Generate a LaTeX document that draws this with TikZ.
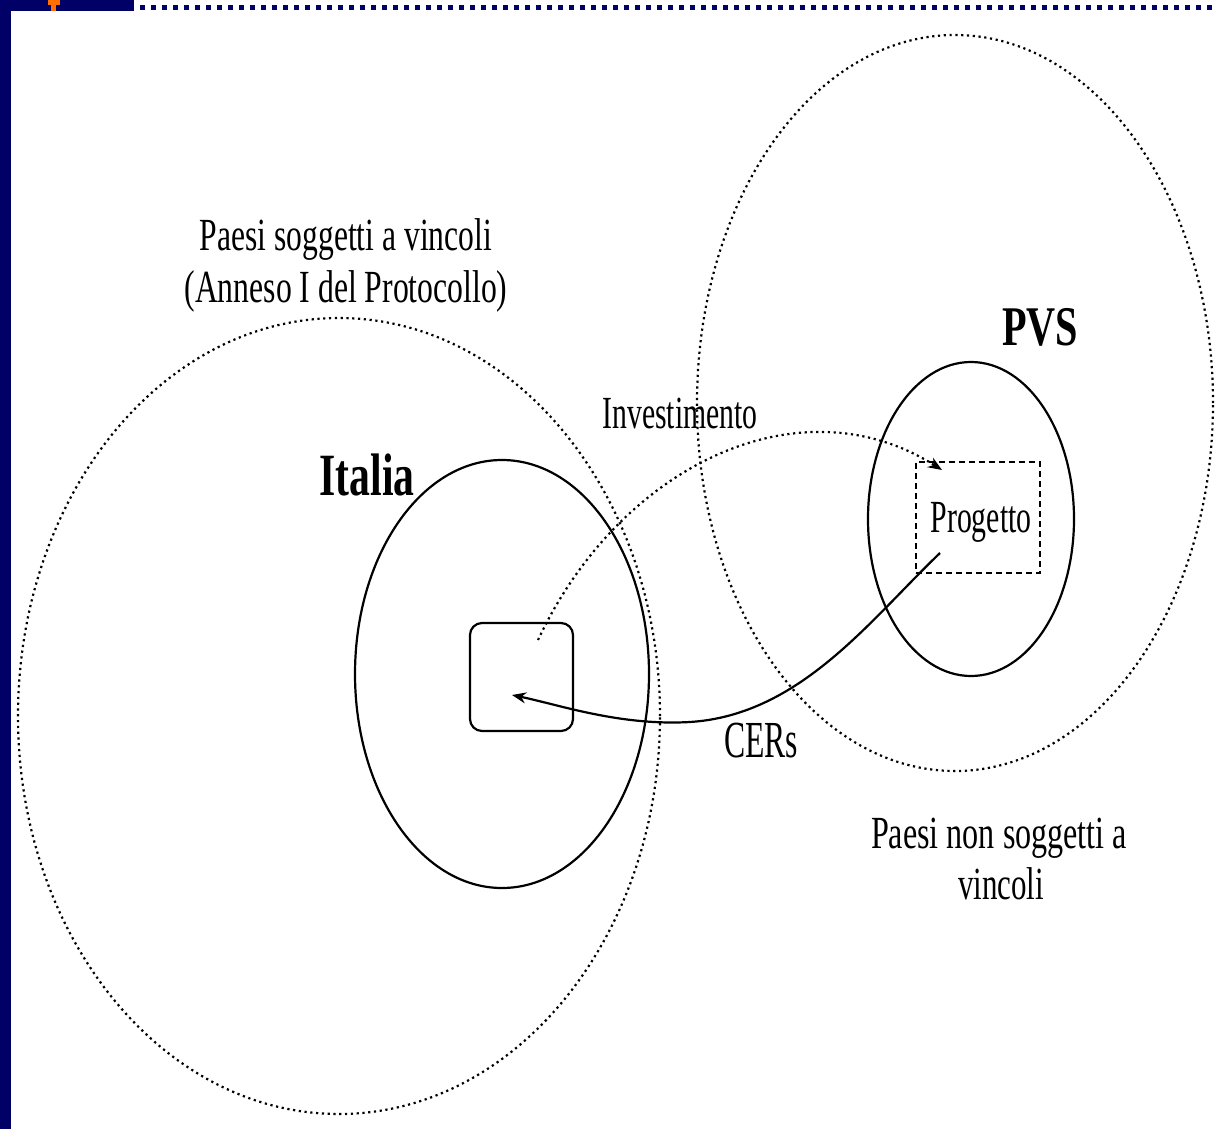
\documentclass[tikz,border=0pt]{standalone}
\usepackage{fontspec}
\setmainfont{Liberation Serif}
\usepackage{graphicx}
\usetikzlibrary{shapes.geometric,arrows.meta}
\definecolor{navy}{RGB}{0,0,102}
\definecolor{orng}{RGB}{255,110,0}
\newcommand\sqz[3]{\resizebox{#1pt}{\height}{\fontsize{#2}{#2}\selectfont #3}}
\begin{document}
\begin{tikzpicture}[x=1pt,y=-1pt,
  dotline/.style={line width=2.2pt, dash pattern=on 2.2pt off 3.6pt},
  solidline/.style={line width=2.2pt},
  region/.style={ellipse, inner sep=0pt, draw},
  lbl/.style={inner sep=0pt, anchor=base},
  tip/.style={-{Stealth[length=14pt,width=11pt]}}]
\useasboundingbox (0,0) rectangle (1218,1129);
\fill[white] (0,0) rectangle (1218,1129);
% frame
\fill[navy] (0,0) rectangle (11,1129);
\fill[navy] (0,0) rectangle (134,11);
\fill[orng] (48,0) rectangle (60,5);
\fill[orng] (51,5) rectangle (56,11);
\draw[navy, line width=4.5pt, dash pattern=on 4.5pt off 6.5pt] (140,7.5) -- (1218,7.5);
% regions
\node[region, dotline, minimum width=642pt, minimum height=796pt] (annex) at (339,716) {};
\node[region, dotline, minimum width=516pt, minimum height=736pt] (nonannex) at (955,403) {};
\node[region, solidline, minimum width=294pt, minimum height=428pt] (italia) at (502,674) {};
\node[region, solidline, minimum width=206pt, minimum height=314pt] (pvs) at (971,519) {};
\node[draw, solidline, rounded corners=12pt, minimum width=103pt, minimum height=108pt, inner sep=0pt] (buyer) at (521.5,677) {};
\node[draw, line width=2.2pt, dash pattern=on 6pt off 4pt, minimum width=124pt, minimum height=111pt, inner sep=0pt] (proj) at (978,517.5) {};
% connectors
\coordinate (invS) at (538,640);
\coordinate (invE) at (942,470);
\coordinate (cerS) at (940,553);
\coordinate (cerE) at (512,695);
\draw[dotline, tip] (invS) .. controls (620,465) and (800,380) .. (invE);
\draw[solidline, tip] (cerS) .. controls (870,620) and (800,715) .. (690,722) .. controls (620,726) and (560,705) .. (cerE);
% labels
\node[lbl] (l1) at (346,250) {\sqz{292}{46}{Paesi soggetti a vincoli}};
\node[lbl] (l2) at (346,302) {\sqz{323}{46}{(Anneso I del Protocollo)}};
\node[lbl] (linv) at (680,428) {\sqz{155}{46}{Investimento}};
\node[lbl] (lit) at (367,495) {\sqz{95}{60}{\bfseries Italia}};
\node[lbl] (lpvs) at (1040,345) {\sqz{76}{56}{\bfseries PVS}};
\node[lbl] (lproj) at (981,532) {\sqz{101}{46}{Progetto}};
\node[lbl] (lcer) at (761,757) {\sqz{74}{52}{CERs}};
\node[lbl] (l3) at (999,848) {\sqz{256}{46}{Paesi non soggetti a}};
\node[lbl] (l4) at (1001,899) {\sqz{86}{46}{vincoli}};
\end{tikzpicture}
\end{document}
